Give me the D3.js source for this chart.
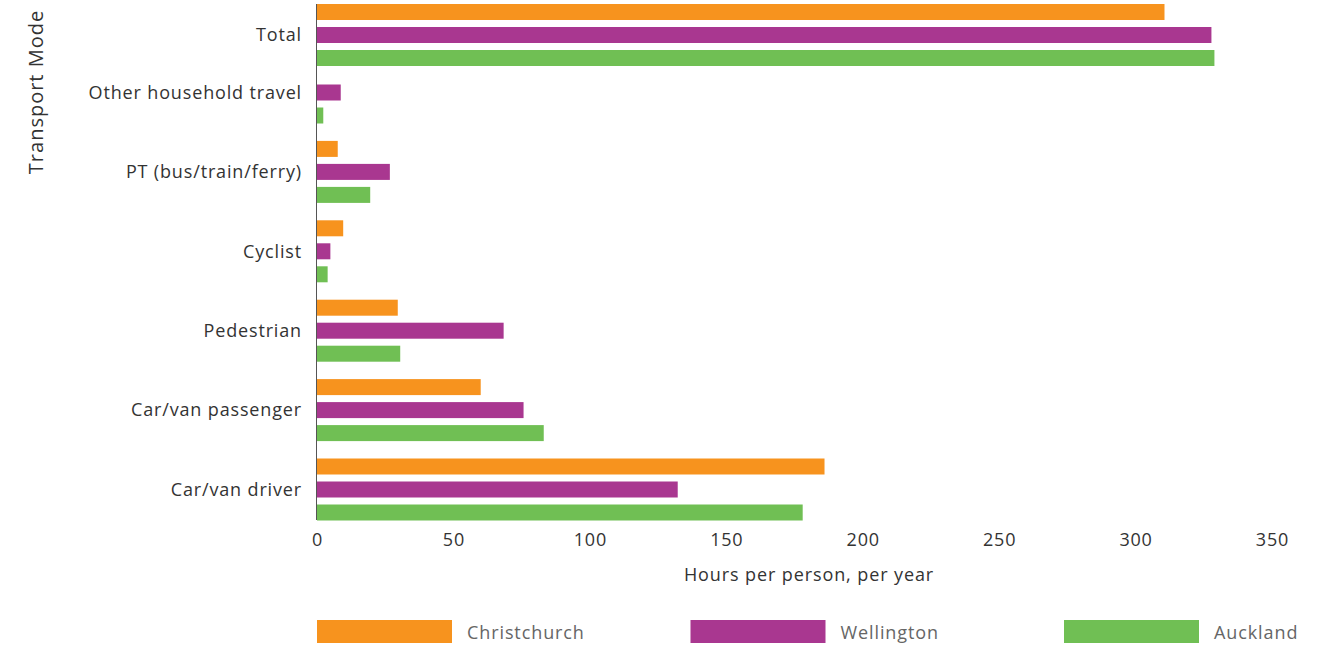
<!DOCTYPE html>
<html>
<head>
<meta charset="utf-8">
<script src="https://cdn.jsdelivr.net/npm/d3@7"></script>
<style>
  html, body { margin: 0; padding: 0; background: #fff; }
  svg { display: block; font-family: "Open Sans", "Noto Sans", sans-serif; }
</style>
</head>
<body>
<svg id="chart" width="1335" height="646"></svg>
<script>
// ---- Data ----
const categories = ["Total", "Other household travel", "PT (bus/train/ferry)", "Cyclist", "Pedestrian", "Car/van passenger", "Car/van driver"];
const cities = ["Christchurch", "Wellington", "Auckland"];
const christchurch = [310.6, null, 7.6, 9.6, 29.6, 60.0, 186.0];
const wellington   = [327.8, 8.7, 26.7, 4.9, 68.4, 75.7, 132.2];
const auckland     = [328.9, 2.3, 19.5, 3.9, 30.5, 83.1, 178.0];
const xTicks = [0, 50, 100, 150, 200, 250, 300, 350];
const colors = ["#F7931E", "#A93790", "#70BF54"];
const xTitle = "Hours per person, per year";
const yTitle = "Transport Mode";

const seriesValues = [christchurch, wellington, auckland];

// ---- Layout ----
const svg = d3.select("#chart");
const x = d3.scaleLinear().domain([0, 350]).range([317, 1272]);
// group centres: index -> y (piecewise linear, as in the original layout)
const yGroup = d3.scaleLinear().domain([0, 1, 6]).range([35, 92.5, 489.5]);
const yInner = d3.scaleBand().domain(cities).range([-31, 31]).paddingInner(0.3043).paddingOuter(0);
const color = d3.scaleOrdinal().domain(cities).range(colors);

// bars
const data = [];
categories.forEach((cat, i) => {
  cities.forEach((city, j) => {
    const v = seriesValues[j][i];
    if (v != null) data.push({cat, i, city, v});
  });
});

svg.append("g").selectAll("rect").data(data).join("rect")
  .attr("x", x(0))
  .attr("y", d => yGroup(d.i) + yInner(d.city))
  .attr("width", d => x(d.v) - x(0))
  .attr("height", yInner.bandwidth())
  .attr("fill", d => color(d.city));

// y axis line
svg.append("line")
  .attr("x1", x(0) - 0.5).attr("x2", x(0) - 0.5)
  .attr("y1", 4).attr("y2", 520)
  .attr("stroke", "#555").attr("stroke-width", 1);

// category labels
svg.append("g").selectAll("text").data(categories).join("text")
  .attr("x", 302)
  .attr("y", (d, i) => yGroup(i))
  .attr("dy", "0.35em")
  .attr("text-anchor", "end")
  .attr("font-size", 18)
  .attr("letter-spacing", 0.85)
  .attr("fill", "#333")
  .text(d => d);

// x axis
const xAxis = d3.axisBottom(x).tickValues(xTicks).tickSize(0).tickPadding(0).tickFormat(d3.format("d"));
const gx = svg.append("g").attr("transform", "translate(0,533)").call(xAxis);
gx.select(".domain").remove();
gx.selectAll("text").attr("font-size", 18).attr("letter-spacing", 0.8).attr("fill", "#333").attr("font-family", "\"Open Sans\", sans-serif");

// x title
svg.append("text")
  .attr("x", 809).attr("y", 575)
  .attr("dy", "0.35em")
  .attr("text-anchor", "middle")
  .attr("font-size", 18)
  .attr("letter-spacing", 0.9)
  .attr("fill", "#333")
  .text(xTitle);

// y title
svg.append("text")
  .attr("transform", "translate(36,92) rotate(-90)")
  .attr("dy", "0.35em")
  .attr("text-anchor", "middle")
  .attr("font-size", 20)
  .attr("letter-spacing", 1)
  .attr("fill", "#333")
  .text(yTitle);

// legend
const legendX = d3.scalePoint().domain(cities).range([317, 1064]);
const lg = svg.append("g").selectAll("g").data(cities).join("g")
  .attr("transform", d => `translate(${legendX(d)},620)`);
lg.append("rect").attr("width", 135).attr("height", 23).attr("fill", d => color(d));
lg.append("text").attr("x", 150).attr("y", 13).attr("dy", "0.35em")
  .attr("font-size", 18).attr("letter-spacing", 0.9).attr("fill", "#666").text(d => d);
</script>
</body>
</html>
